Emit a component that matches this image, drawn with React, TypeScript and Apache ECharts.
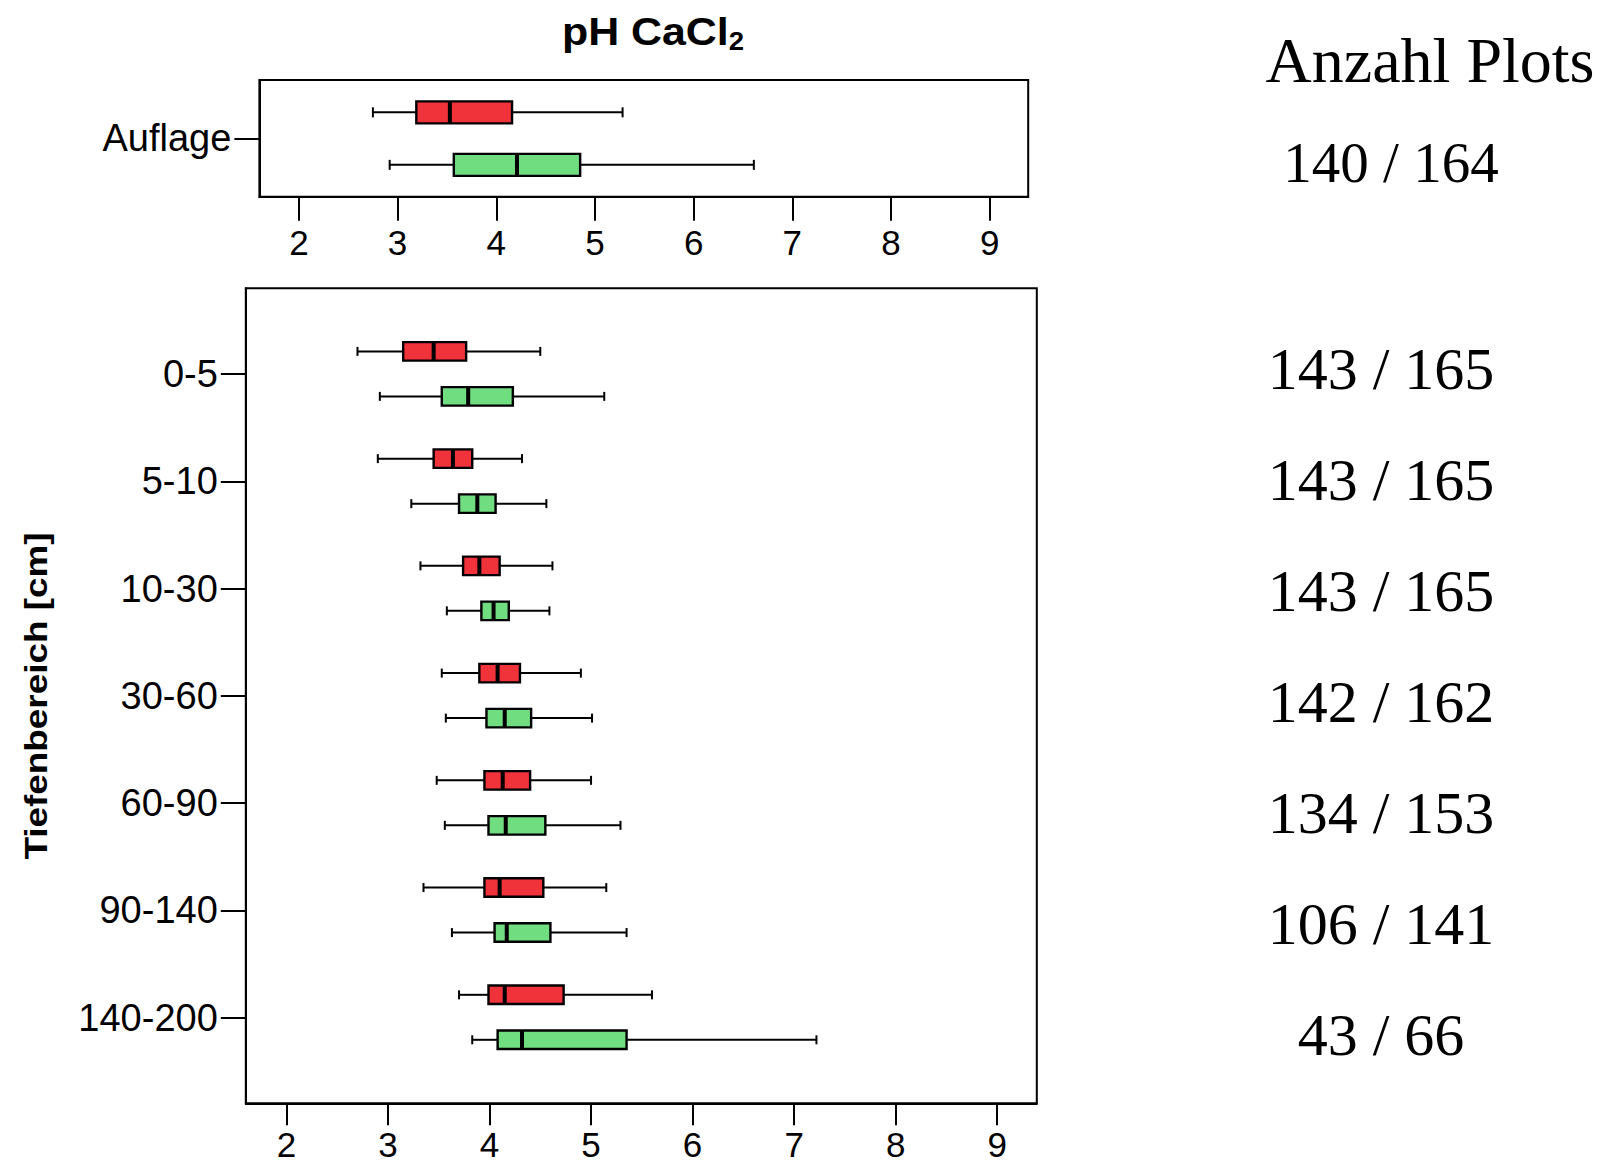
import React, { useEffect, useRef } from "react";
import * as echarts from "echarts";

// ---- data ----
const xTicks = [2, 3, 4, 5, 6, 7, 8, 9];
const topCategories = ["Auflage"];
const depthCategories = ["0-5", "5-10", "10-30", "30-60", "60-90", "90-140", "140-200"];

// Auflage (low, q1, median, q3, high)
const auflageRed = [2.75, 3.19, 3.53, 4.16, 5.28];
const auflageGreen = [2.92, 3.57, 4.21, 4.85, 6.61];

// depth ranges
const redLow = [2.7, 2.9, 3.32, 3.53, 3.48, 3.35, 3.7];
const redQ1 = [3.15, 3.45, 3.74, 3.9, 3.95, 3.95, 3.99];
const redMed = [3.45, 3.64, 3.9, 4.08, 4.13, 4.1, 4.15];
const redQ3 = [3.77, 3.83, 4.1, 4.3, 4.4, 4.53, 4.73];
const redHigh = [4.5, 4.32, 4.62, 4.9, 5.0, 5.15, 5.6];

const greenLow = [2.92, 3.23, 3.58, 3.57, 3.56, 3.63, 3.83];
const greenQ1 = [3.53, 3.7, 3.92, 3.97, 3.99, 4.05, 4.08];
const greenMed = [3.79, 3.88, 4.04, 4.15, 4.16, 4.17, 4.32];
const greenQ3 = [4.23, 4.06, 4.19, 4.41, 4.55, 4.6, 5.35];
const greenHigh = [5.13, 4.56, 4.59, 5.01, 5.29, 5.35, 7.22];

const topCountsRed = [140];
const topCountsGreen = [164];
const countsRed = [143, 143, 143, 142, 134, 106, 43];
const countsGreen = [165, 165, 165, 162, 153, 141, 66];

const RED = "#F0333A";
const GREEN = "#70DD80";
const SANS = "'Liberation Sans', Arial, Helvetica, sans-serif";
const SERIF = "'Liberation Serif', 'Times New Roman', Times, serif";

function makeRender(color: string, offset: number, boxH: number, capH: number) {
  return (params: any, api: any) => {
    const cat = api.value(0);
    const lo = api.coord([api.value(1), cat]);
    const q1 = api.coord([api.value(2), cat]);
    const md = api.coord([api.value(3), cat]);
    const q3 = api.coord([api.value(4), cat]);
    const hi = api.coord([api.value(5), cat]);
    const y = lo[1] + offset;
    const stroke = { stroke: "#000", lineWidth: 2 };
    return {
      type: "group",
      children: [
        { type: "line", shape: { x1: lo[0], y1: y, x2: q1[0], y2: y }, style: stroke },
        { type: "line", shape: { x1: q3[0], y1: y, x2: hi[0], y2: y }, style: stroke },
        { type: "line", shape: { x1: lo[0], y1: y - capH / 2, x2: lo[0], y2: y + capH / 2 }, style: stroke },
        { type: "line", shape: { x1: hi[0], y1: y - capH / 2, x2: hi[0], y2: y + capH / 2 }, style: stroke },
        {
          type: "rect",
          shape: { x: q1[0], y: y - boxH / 2, width: q3[0] - q1[0], height: boxH },
          style: { fill: color, stroke: "#000", lineWidth: 2.4 },
        },
        {
          type: "line",
          shape: { x1: md[0], y1: y - boxH / 2, x2: md[0], y2: y + boxH / 2 },
          style: { stroke: "#000", lineWidth: 4 },
        },
      ],
    };
  };
}

function rows(lo: number[], q1: number[], md: number[], q3: number[], hi: number[]) {
  return lo.map((_, i) => [i, lo[i], q1[i], md[i], q3[i], hi[i]]);
}

export default function App() {
  const ref = useRef<HTMLDivElement>(null);
  useEffect(() => {
    if (!ref.current) return;
    const chart = echarts.init(ref.current, undefined, { renderer: "svg" });

    const xAxisBase = (tickLen: number, margin: number) => ({
      type: "value",
      min: 1.6,
      max: 9.39,
      axisLine: { show: true, onZero: false, lineStyle: { color: "#000", width: 2 } },
      axisTick: { show: true, customValues: xTicks, length: tickLen, lineStyle: { color: "#000", width: 2 } },
      axisLabel: {
        customValues: xTicks,
        margin,
        fontSize: 35,
        lineHeight: 35,
        fontFamily: SANS,
        color: "#000",
      },
      splitLine: { show: false },
    });

    const yLabelStyle = {
      margin: 28,
      fontSize: 38,
      fontFamily: SANS,
      color: "#000",
    };

    const topData = [[0, ...auflageRed]];
    const topDataG = [[0, ...auflageGreen]];

    const countTexts = countsRed.map((c, i) => ({
      type: "text",
      x: 1381,
      y: 369 + 111 * i,
      style: {
        text: `${c} / ${countsGreen[i]}`,
        fontSize: 60,
        fontFamily: SERIF,
        fill: "#000",
        align: "center",
        verticalAlign: "middle",
      },
    }));

    const option: any = {
      animation: false,
      backgroundColor: "#fff",
      grid: [
        { left: 259.4, top: 80, width: 768.8, height: 116.7, show: true, borderColor: "#000", borderWidth: 2, containLabel: false },
        { left: 245.8, top: 288.3, width: 791, height: 815, show: true, borderColor: "#000", borderWidth: 2, containLabel: false },
      ],
      xAxis: [
        { ...xAxisBase(24, 28), gridIndex: 0 },
        { ...xAxisBase(22, 24), gridIndex: 1 },
      ],
      yAxis: [
        {
          type: "value",
          gridIndex: 0,
          min: -1,
          max: 1,
          inverse: true,
          axisLine: { show: true, onZero: false, lineStyle: { color: "#000", width: 2 } },
          axisTick: { show: true, customValues: [0], length: 25, lineStyle: { color: "#000", width: 2 } },
          axisLabel: {
            ...yLabelStyle,
            customValues: [0],
            formatter: (v: number) => topCategories[Math.round(v)] ?? "",
          },
          splitLine: { show: false },
        },
        {
          type: "value",
          gridIndex: 1,
          min: -0.8,
          max: 6.8,
          inverse: true,
          axisLine: { show: true, onZero: false, lineStyle: { color: "#000", width: 2 } },
          axisTick: { show: true, customValues: depthCategories.map((_, i) => i), length: 25, lineStyle: { color: "#000", width: 2 } },
          axisLabel: {
            ...yLabelStyle,
            customValues: depthCategories.map((_, i) => i),
            formatter: (v: number) => depthCategories[Math.round(v)] ?? "",
          },
          splitLine: { show: false },
        },
      ],
      series: [
        {
          type: "custom",
          xAxisIndex: 0,
          yAxisIndex: 0,
          data: topData,
          encode: { x: [1, 2, 3, 4, 5], y: 0 },
          renderItem: makeRender(RED, -26, 22, 10),
          clip: false,
        },
        {
          type: "custom",
          xAxisIndex: 0,
          yAxisIndex: 0,
          data: topDataG,
          encode: { x: [1, 2, 3, 4, 5], y: 0 },
          renderItem: makeRender(GREEN, 26.5, 22, 10),
          clip: false,
        },
        {
          type: "custom",
          xAxisIndex: 1,
          yAxisIndex: 1,
          data: rows(redLow, redQ1, redMed, redQ3, redHigh),
          encode: { x: [1, 2, 3, 4, 5], y: 0 },
          renderItem: makeRender(RED, -22.7, 18.5, 9),
          clip: false,
        },
        {
          type: "custom",
          xAxisIndex: 1,
          yAxisIndex: 1,
          data: rows(greenLow, greenQ1, greenMed, greenQ3, greenHigh),
          encode: { x: [1, 2, 3, 4, 5], y: 0 },
          renderItem: makeRender(GREEN, 22.3, 18.5, 9),
          clip: false,
        },
      ],
      graphic: [
        {
          type: "text",
          x: 653,
          y: 32,
          scaleX: 1.1,
          style: {
            text: "{a|pH CaCl}{b|2}",
            align: "center",
            verticalAlign: "middle",
            fill: "#000",
            rich: {
              a: { fontSize: 39, fontWeight: "bold", fontFamily: SANS, lineHeight: 44, fill: "#000" },
              b: { fontSize: 25, fontWeight: "bold", fontFamily: SANS, lineHeight: 22, verticalAlign: "bottom", fill: "#000" },
            },
          },
        },
        {
          type: "text",
          x: 36,
          y: 696,
          rotation: Math.PI / 2,
          scaleX: 1.19,
          style: {
            text: "Tiefenbereich [cm]",
            fontSize: 31,
            fontWeight: "bold",
            fontFamily: SANS,
            fill: "#000",
            align: "center",
            verticalAlign: "middle",
          },
        },
        {
          type: "text",
          x: 1430,
          y: 60,
          style: {
            text: "Anzahl Plots",
            fontSize: 64,
            fontFamily: SERIF,
            fill: "#000",
            align: "center",
            verticalAlign: "middle",
          },
        },
        {
          type: "text",
          x: 1391,
          y: 162,
          style: {
            text: `${topCountsRed[0]} / ${topCountsGreen[0]}`,
            fontSize: 57,
            fontFamily: SERIF,
            fill: "#000",
            align: "center",
            verticalAlign: "middle",
          },
        },
        ...countTexts,
      ],
    };

    chart.setOption(option);
    return () => chart.dispose();
  }, []);

  return (
    <div
      ref={ref}
      style={{ position: "absolute", left: 0, top: 0, width: 1600, height: 1165, background: "#fff" }}
    />
  );
}
